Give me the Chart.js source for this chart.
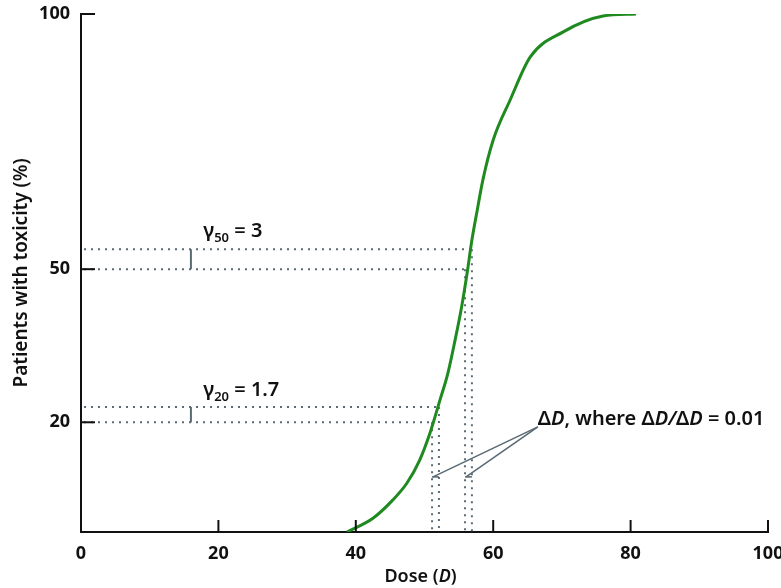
<!DOCTYPE html>
<html>
<head>
<meta charset="utf-8">
<script src="https://cdn.jsdelivr.net/npm/chart.js@4.4.0/dist/chart.umd.min.js"></script>
<style>
html, body { margin: 0; padding: 0; background: #fff; }
</style>
</head>
<body>
<canvas id="doseChart" width="781" height="588"></canvas>
<script>
// dose-response curve
var doses    = [38.7, 42.5, 45.4, 47.45, 49.3, 50.8, 52.26, 53.4, 54.45, 55.4, 56.2, 56.9, 57.6, 58.5, 60.0, 62.45, 65.4, 70.2, 76.0, 80.8];
var toxicity = [-1.5, 1.2, 4.8, 8.1, 12.6, 17.9, 24.4, 29.6, 36.1, 42.6, 49.2, 55.7, 61.0, 67.5, 75.3, 83.1, 91.6, 96.5, 99.6, 100];

var xTicks = [0, 20, 40, 60, 80, 100];
var yTicks = [20, 50, 100];

// guide levels (y) and the doses where they meet the curve (x)
var guideLevels = [20, 23.0, 50, 53.9];
var guideDoses  = [51.1, 52.1, 55.9, 56.9];
var gammaDose   = 16;     // where the little brackets sit
var deltaLevel  = 9.3;    // height of the delta-D markers

var FONT = '"Noto Sans", "Open Sans", sans-serif';
var GREY = '#5b6b74';

function fontFor(p, size) {
  return (p.italic ? 'italic ' : '') + '600 ' + (p.sub ? Math.round(size * 0.65) : size) + 'px ' + FONT;
}

function richText(c, x, y, parts, size, align) {
  var w = 0;
  parts.forEach(function (p) { c.font = fontFor(p, size); p.w = c.measureText(p.t).width; w += p.w; });
  var cx = align === 'center' ? x - w / 2 : x;
  parts.forEach(function (p) {
    c.font = fontFor(p, size);
    c.fillText(p.t, cx, p.sub ? y + size * 0.32 : y);
    cx += p.w;
  });
}

function line(c, x1, y1, x2, y2) {
  c.beginPath(); c.moveTo(x1, y1); c.lineTo(x2, y2); c.stroke();
}

var guides = {
  id: 'guides',
  beforeDatasetsDraw: function (chart) {
    var c = chart.ctx, xs = chart.scales.x, ys = chart.scales.y;
    c.save();
    c.strokeStyle = GREY; c.lineWidth = 2; c.setLineDash([2, 5]);
    for (var i = 0; i < guideLevels.length; i++) {
      var px = xs.getPixelForValue(guideDoses[i]), py = ys.getPixelForValue(guideLevels[i]);
      line(c, xs.getPixelForValue(0) + 3, py, px, py);
      line(c, px, py, px, ys.bottom);
    }
    c.restore();
  },
  afterDatasetsDraw: function (chart) {
    var c = chart.ctx, xs = chart.scales.x, ys = chart.scales.y, a = chart.chartArea;
    c.save();
    c.strokeStyle = GREY; c.lineWidth = 2;
    // gamma brackets
    var bx = xs.getPixelForValue(gammaDose);
    line(c, bx, ys.getPixelForValue(guideLevels[0]), bx, ys.getPixelForValue(guideLevels[1]));
    line(c, bx, ys.getPixelForValue(guideLevels[2]), bx, ys.getPixelForValue(guideLevels[3]));
    // delta-D markers and arrows
    var my = ys.getPixelForValue(deltaLevel);
    var ax = xs.getPixelForValue(66.5), ay = ys.getPixelForValue(19.1);
    c.lineWidth = 1.6;
    [[0, 1], [2, 3]].forEach(function (pr) {
      var x1 = xs.getPixelForValue(guideDoses[pr[0]]), x2 = xs.getPixelForValue(guideDoses[pr[1]]);
      line(c, x1, my, x2, my);
      line(c, ax, ay, x1 + 1, my);
    });
    // labels
    c.fillStyle = '#111';
    c.textBaseline = 'middle';
    richText(c, xs.getPixelForValue(17.8), ys.getPixelForValue(57.4),
      [{ t: '\u03b3' }, { t: '50', sub: true }, { t: ' = 3' }], 20, 'left');
    richText(c, xs.getPixelForValue(17.8), ys.getPixelForValue(26.2),
      [{ t: '\u03b3' }, { t: '20', sub: true }, { t: ' = 1.7' }], 20, 'left');
    richText(c, xs.getPixelForValue(66.5), ys.getPixelForValue(20.6),
      [{ t: '\u0394' }, { t: 'D', italic: true }, { t: ', where ' }, { t: '\u0394' }, { t: 'D/', italic: true },
       { t: '\u0394' }, { t: 'D', italic: true }, { t: ' = 0.01' }], 20, 'left');
    // x axis title with italic D
    richText(c, (a.left + a.right) / 2 - 4, 577,
      [{ t: 'Dose (' }, { t: 'D', italic: true }, { t: ')' }], 18, 'center');
    // inward tick marks
    c.strokeStyle = '#111'; c.lineWidth = 2;
    xs.ticks.forEach(function (t) {
      var px = xs.getPixelForValue(t.value);
      line(c, px, a.bottom, px, a.bottom - 12);
    });
    ys.ticks.forEach(function (t) {
      var py = ys.getPixelForValue(t.value);
      line(c, a.left, py, a.left + 14, py);
    });
    c.restore();
  }
};

var points = doses.map(function (d, i) { return { x: d, y: toxicity[i] }; });

var ctx = document.getElementById('doseChart');
var myChart = new Chart(ctx, {
  type: 'line',
  data: {
    datasets: [{
      data: points,
      borderColor: '#1f8a1f',
      borderWidth: 3,
      pointRadius: 0,
      fill: false,
      cubicInterpolationMode: 'monotone'
    }]
  },
  options: {
    responsive: false,
    animation: false,
    devicePixelRatio: 1,
    layout: { padding: { top: 14, right: 13, left: 0, bottom: 0 } },
    plugins: { legend: { display: false }, tooltip: { enabled: false } },
    scales: {
      x: {
        type: 'linear', min: 0, max: 100,
        afterBuildTicks: function (s) { s.ticks = xTicks.map(function (v) { return { value: v }; }); },
        afterFit: function (s) { s.height = 56; s.paddingLeft = 0; s.paddingRight = 0; },
        grid: { display: false, drawTicks: false },
        border: { display: true, color: '#111', width: 2 },
        ticks: { color: '#111', padding: 11, maxRotation: 0, font: { family: FONT, size: 18, weight: 'bold' } }
      },
      y: {
        type: 'linear', min: -1.5, max: 100,
        afterBuildTicks: function (s) { s.ticks = yTicks.map(function (v) { return { value: v }; }); },
        afterFit: function (s) { s.width = 81; s.paddingTop = 0; s.paddingBottom = 0; },
        grid: { display: false, drawTicks: false },
        border: { display: true, color: '#111', width: 2 },
        ticks: { color: '#111', padding: 11, font: { family: FONT, size: 18, weight: 'bold' } },
        title: {
          display: true, text: 'Patients with toxicity (%)', color: '#111',
          padding: { top: 10, bottom: 0 },
          font: { family: FONT, size: 19, weight: '600' }
        }
      }
    }
  },
  plugins: [guides]
});
</script>
</body>
</html>
